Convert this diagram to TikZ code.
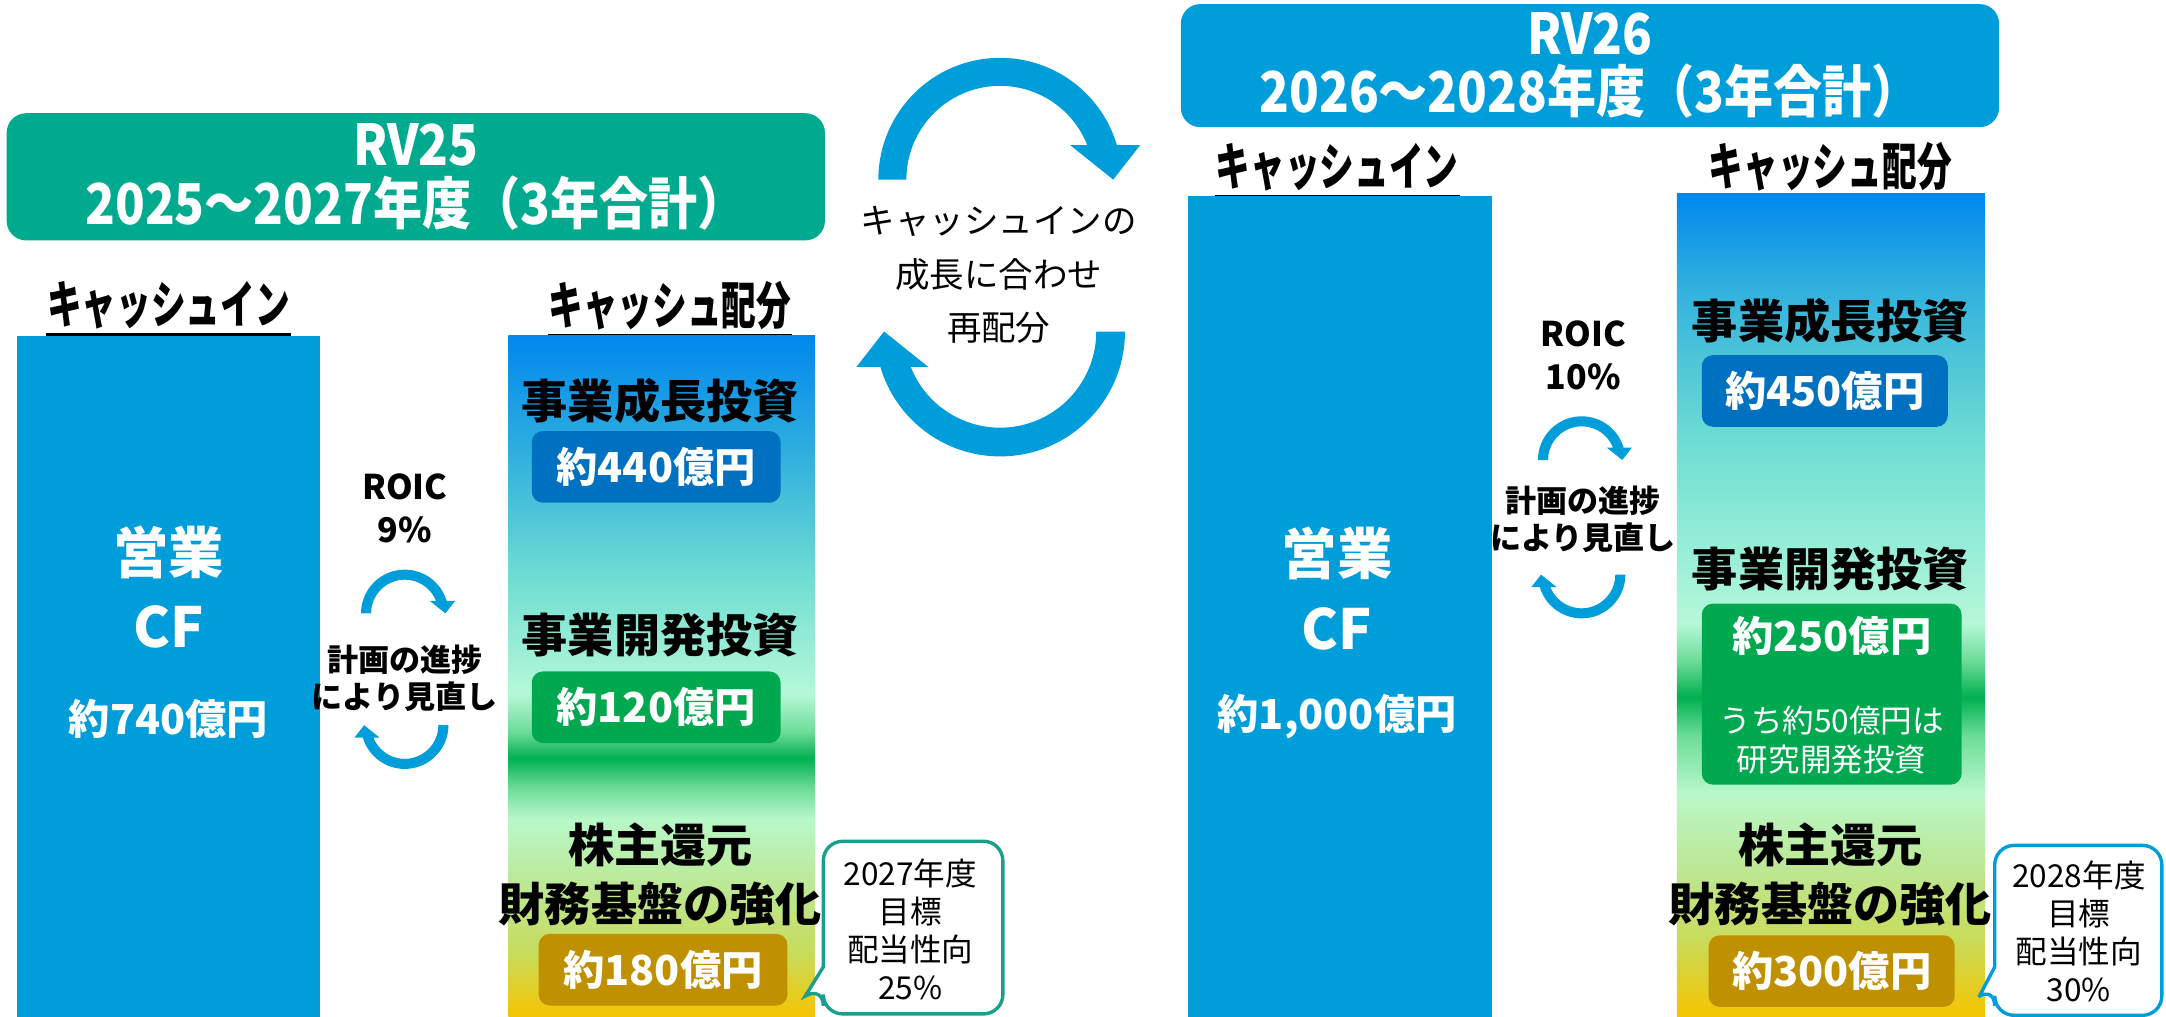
\documentclass[tikz,border=0pt]{standalone}
\usepackage{graphicx}
\usepackage{fontspec}
\setmainfont{Noto Sans CJK JP}

\definecolor{rvgreen}{HTML}{00AA8E}
\definecolor{cfblue}{HTML}{009DDB}
\definecolor{boxblue}{HTML}{0070C0}
\definecolor{boxgreen}{HTML}{00A84F}
\definecolor{boxgold}{HTML}{BF9000}
\definecolor{tipgreen}{HTML}{1AA08A}
% colours of the allocation bars
\definecolor{gtop}{HTML}{0088EE}
\definecolor{gsky}{HTML}{30B0DE}
\definecolor{gaqua}{HTML}{70DED2}
\definecolor{gice}{HTML}{98EED8}
\definecolor{gpale}{HTML}{B6F8D8}
\definecolor{gmid}{HTML}{6CDC98}
\definecolor{gband}{HTML}{00B050}
\definecolor{gmint}{HTML}{B8F8C8}
\definecolor{glime}{HTML}{BDE690}
\definecolor{gyell}{HTML}{C8DC5C}
\definecolor{gbot}{HTML}{F6C400}

\pgfdeclareverticalshading{mix25}{100bp}{color(0bp)=(gbot); color(25bp)=(gbot);
  color(29.7bp)=(gyell); color(34.1bp)=(glime); color(39.5bp)=(gmint);
  color(41.8bp)=(gmid); color(44bp)=(gband); color(45.9bp)=(gmid);
  color(48.7bp)=(gpale); color(57bp)=(gaqua); color(66.2bp)=(gsky);
  color(75bp)=(gtop); color(100bp)=(gtop)}
\pgfdeclareverticalshading{mix26}{100bp}{color(0bp)=(gbot); color(25bp)=(gbot);
  color(29.8bp)=(gyell); color(33.7bp)=(glime); color(38.6bp)=(gmint);
  color(42.1bp)=(gmid); color(44.4bp)=(gband); color(46.6bp)=(gmid);
  color(48.9bp)=(gpale); color(53.2bp)=(gice); color(59.6bp)=(gaqua);
  color(69.4bp)=(gsky); color(75bp)=(gtop); color(100bp)=(gtop)}

\newcommand\narrow[2][0.87]{\scalebox{#1}[1]{#2}}

\tikzset{
  halfcycle/.pic={
    \fill[cfblue] (180:1.13) arc[start angle=180, end angle=343.55, radius=1.13]
      -- (1.30,-0.32) -- (1.05,0) -- (0.65,-0.32)
      -- (338.4:0.87) arc[start angle=338.4, end angle=180, radius=0.87] -- cycle;
  }
}

\begin{document}
\begin{tikzpicture}[x=0.01cm, y=-0.01cm,
  titlebox/.style={rounded corners=4pt, text=white, inner sep=0, minimum width=5.92cm, align=center, font=\bfseries\fontsize{11.6}{12}\selectfont},
  colhead/.style={inner sep=0, font=\bfseries\fontsize{10.5}{10.5}\selectfont},
  uline/.style={line width=0.8pt},
  alloc/.style={align=center, font=\bfseries\fontsize{9.5}{12.2}\selectfont},
  amount/.style={rounded corners=2.3pt, text=white, minimum width=1.8cm, minimum height=0.5cm, font=\bfseries\fontsize{8.5}{9}\selectfont},
  cfword/.style={align=center, text=white, font=\bfseries\fontsize{11.4}{15.4}\selectfont},
  cfsum/.style={text=white, font=\bfseries\fontsize{8.5}{9}\selectfont},
  roic/.style={align=center, font=\bfseries\fontsize{7}{8.8}\selectfont},
  review/.style={align=center, font=\bfseries\fontsize{6.4}{7.7}\selectfont},
  bubble/.style={fill=white, line width=0.7pt},
  bubtext/.style={align=center, font=\fontsize{6.5}{7.8}\selectfont},
]
\useasboundingbox (0,0) rectangle (1568,736);

% RV25
\node[titlebox, fill=rvgreen, minimum height=0.92cm] (rv25) at (301,128)
  {\narrow{RV25}\\\narrow{2025～2027年度（3年合計）}};
\node[colhead] (in25) at (122,221) {\narrow[0.68]{キャッシュイン}};
\draw[uline] ([yshift=-1pt]in25.south west) -- ([yshift=-1pt]in25.south east);
\node[colhead] (out25) at (485,221) {\narrow[0.68]{キャッシュ配分}};
\draw[uline] ([yshift=-1pt]out25.south west) -- ([yshift=-1pt]out25.south east);

\fill[cfblue] (12,243) rectangle (232,736);
\node[cfword] (cf25) at (122,425) {営業\\CF};
\node[cfsum] (sum25) at (122,520) {約740億円};

\node[roic] (roic25) at (293,368) {ROIC\\9\%};
\pic[scale=28] at (293,444) {halfcycle};
\node[review] (rev25) at (293,491) {計画の進捗\\により見直し};
\pic[scale=28, rotate=180] at (293,525) {halfcycle};

\shade[shading=mix25] (368,243) rectangle (590,736);
\node[alloc] (grow25) at (478,290) {事業成長投資};
\node[amount, fill=boxblue, minimum height=0.51cm] (a25) at (475,338) {約440億円};
\node[alloc] (dev25) at (478,460) {事業開発投資};
\node[amount, fill=boxgreen, minimum height=0.51cm] (b25) at (475,512) {約120億円};
\node[alloc] (ret25) at (478,633) {株主還元\\財務基盤の強化};
\node[amount, fill=boxgold, minimum height=0.49cm] (c25) at (480,702) {約180億円};

\draw[bubble, draw=tipgreen] [rounded corners=4pt] (661,609) -- (726,609) -- (726,734) -- (596,734)
  -- (596,714) [sharp corners] -- (583,721) -- (596,700) [rounded corners=4pt] -- (596,609) -- cycle;
\node[bubtext] (pay25) at (659,673) {2027年度\\目標\\配当性向\\25\%};

% centre
\pic[scale=78] at (724,130) {halfcycle};
\pic[scale=80, rotate=180] at (724,240) {halfcycle};
\node[align=center, font=\fontsize{7.1}{11.1}\selectfont] (mid) at (723,199)
  {キャッシュインの\\成長に合わせ\\再配分};

% RV26
\node[titlebox, fill=cfblue, minimum height=0.89cm] (rv26) at (1151,47.5)
  {\narrow{RV26}\\\narrow{2026～2028年度（3年合計）}};
\node[colhead] (in26) at (968,121) {\narrow[0.68]{キャッシュイン}};
\draw[uline] ([yshift=-1pt]in26.south west) -- ([yshift=-1pt]in26.south east);
\node[colhead] (out26) at (1325,121) {\narrow[0.68]{キャッシュ配分}};
\draw[uline] ([yshift=-1pt]out26.south west) -- ([yshift=-1pt]out26.south east);

\fill[cfblue] (860,142) rectangle (1080,736);
\node[cfword] (cf26) at (968,426) {営業\\CF};
\node[cfsum] (sum26) at (968,519) {約1,000億円};

\node[roic] (roic26) at (1146,257) {ROIC\\10\%};
\pic[scale=28] at (1145,333) {halfcycle};
\node[review] (rev26) at (1146,376) {計画の進捗\\により見直し};
\pic[scale=28, rotate=180] at (1145,416) {halfcycle};

\shade[shading=mix26] (1214,140) rectangle (1437,736);
\node[alloc] (grow26) at (1325,232) {事業成長投資};
\node[amount, fill=boxblue, minimum width=1.78cm] (a26) at (1321,283) {約450億円};
\node[alloc] (dev26) at (1325,412) {事業開発投資};
\node[amount, fill=boxgreen, minimum width=1.88cm, minimum height=1.31cm] (b26) at (1326,502.5) {};
\node[cfsum] (b26t) at (1326,460) {約250億円};
\node[align=center, text=white, font=\fontsize{6.5}{8}\selectfont] (b26n) at (1326,536) {うち約50億円は\\研究開発投資};
\node[alloc] (ret26) at (1325,633) {株主還元\\財務基盤の強化};
\node[amount, fill=boxgold, minimum width=1.78cm] (c26) at (1326,703) {約300億円};

\draw[bubble, draw=cfblue] [rounded corners=4pt] (1505,612) -- (1565,612) -- (1565,735) -- (1444,735)
  -- (1444,714) [sharp corners] -- (1433,721) -- (1444,700) [rounded corners=4pt] -- (1444,612) -- cycle;
\node[bubtext] (pay26) at (1505,674) {2028年度\\目標\\配当性向\\30\%};
\end{tikzpicture}
\end{document}
